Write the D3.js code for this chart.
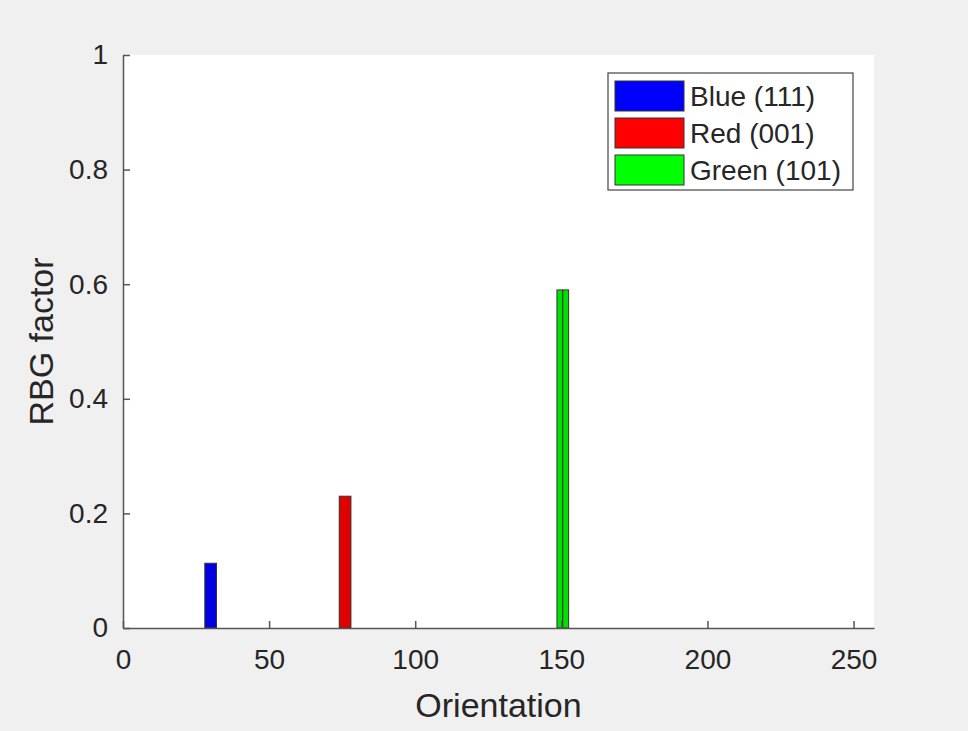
<!DOCTYPE html>
<html>
<head>
<meta charset="utf-8">
<script src="https://cdn.jsdelivr.net/npm/d3@7"></script>
<style>
  body { margin: 0; background: #f0f0f0; }
  svg { display: block; }
  text { font-family: "Liberation Sans", Arial, sans-serif; fill: #262626; }
</style>
</head>
<body>
<svg></svg>
<script>
const width = 968;
const height = 731;

// data
const seriesNames = ["Blue (111)", "Red (001)", "Green (101)"];
const seriesColors = ["#0000ff", "#ff0000", "#00ff00"];
// each bar: series index, orientation (left edge), bin width, value
const binStart = [28, 74, 148.5, 150.5];
const binWidth = [4, 4, 2, 2];
const binValue = [0.113, 0.23, 0.59, 0.59];
const binSeries = [0, 1, 2, 2];
const xTicks = [0, 50, 100, 150, 200, 250];
const yTicks = [0, 0.2, 0.4, 0.6, 0.8, 1];

const margin = { left: 123, top: 55, right: 94, bottom: 103 };

const svg = d3.select("svg")
  .attr("width", width)
  .attr("height", height);

const x = d3.scaleLinear()
  .domain([0, 257])
  .range([margin.left, width - margin.right]);

const y = d3.scaleLinear()
  .domain([0, 1])
  .range([height - margin.bottom, margin.top]);

// white axes area
svg.append("rect")
  .attr("x", x(0))
  .attr("y", y(1))
  .attr("width", x(257) - x(0))
  .attr("height", y(0) - y(1))
  .attr("fill", "#fff");

const bars = binStart.map((s, i) => ({ s, w: binWidth[i], v: binValue[i], k: binSeries[i] }));

svg.append("g")
  .selectAll("rect")
  .data(bars)
  .join("rect")
  .attr("x", d => x(d.s))
  .attr("y", d => y(d.v))
  .attr("width", d => x(d.s + d.w) - x(d.s))
  .attr("height", d => y(0) - y(d.v))
  .attr("fill", d => d3.color(seriesColors[d.k]).darker(0.35))
  .attr("stroke", "#333")
  .attr("stroke-width", 1);

// axes, MATLAB style: ticks inward, no box
const xAxis = svg.append("g")
  .attr("transform", `translate(0,${y(0)})`)
  .call(d3.axisBottom(x).tickValues(xTicks).tickSizeInner(-7).tickSizeOuter(0).tickPadding(21));

const yAxis = svg.append("g")
  .attr("transform", `translate(${x(0)},0)`)
  .call(d3.axisLeft(y).tickValues(yTicks).tickFormat(d3.format("~g")).tickSizeInner(-7).tickSizeOuter(0).tickPadding(15));

[xAxis, yAxis].forEach(g => {
  g.select(".domain").attr("stroke", "#555").attr("stroke-width", 1.5);
  g.selectAll(".tick line").attr("stroke", "#555").attr("stroke-width", 1.5);
  g.selectAll(".tick text")
    .attr("font-size", 28)
    .attr("font-family", "Liberation Sans, Arial, sans-serif")
    .attr("fill", "#262626");
});
xAxis.selectAll(".tick text").attr("dy", "0.71em");

// axis labels
svg.append("text")
  .attr("x", (x(0) + x(257)) / 2)
  .attr("y", 717)
  .attr("text-anchor", "middle")
  .attr("font-size", 34)
  .text("Orientation");

svg.append("text")
  .attr("transform", `translate(53,${(y(0) + y(1)) / 2}) rotate(-90)`)
  .attr("text-anchor", "middle")
  .attr("font-size", 34)
  .text("RBG factor");

// legend
const legend = svg.append("g").attr("transform", "translate(608,73)");
legend.append("rect")
  .attr("width", 245)
  .attr("height", 117)
  .attr("fill", "#fff")
  .attr("stroke", "#444")
  .attr("stroke-width", 1.2);

const item = legend.selectAll("g.item")
  .data(seriesNames)
  .join("g")
  .attr("class", "item")
  .attr("transform", (d, i) => `translate(0,${8 + i * 37})`);

item.append("rect")
  .attr("x", 7)
  .attr("width", 69)
  .attr("height", 30)
  .attr("fill", (d, i) => seriesColors[i])
  .attr("stroke", "#333")
  .attr("stroke-width", 1);

item.append("text")
  .attr("x", 82)
  .attr("y", 15)
  .attr("dy", "0.36em")
  .attr("font-size", 28)
  .text(d => d);
</script>
</body>
</html>
